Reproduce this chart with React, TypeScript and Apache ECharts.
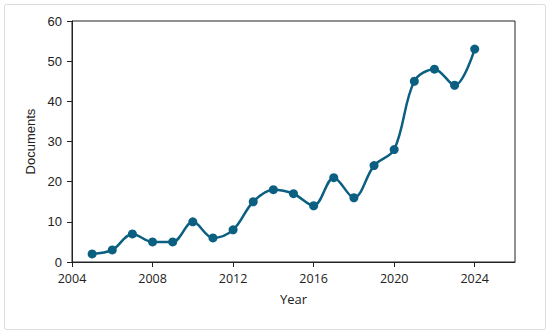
import React, { useEffect, useRef } from "react";
import * as echarts from "echarts";

const years = [2005, 2006, 2007, 2008, 2009, 2010, 2011, 2012, 2013, 2014, 2015, 2016, 2017, 2018, 2019, 2020, 2021, 2022, 2023, 2024];
const documents = [2, 3, 7, 5, 5, 10, 6, 8, 15, 18, 17, 14, 21, 16, 24, 28, 45, 48, 44, 53];
const xTicks = [2004, 2008, 2012, 2016, 2020, 2024];
const yTicks = [0, 10, 20, 30, 40, 50, 60];

export default function App() {
  const ref = useRef<HTMLDivElement>(null);
  useEffect(() => {
    if (!ref.current) return;
    const chart = echarts.init(ref.current, null, { renderer: "svg" });
    const axisColor = "#222";
    chart.setOption({
      animation: false,
      backgroundColor: "#fff",
      grid: {
        left: 72,
        right: 35,
        top: 21,
        bottom: 72,
        show: true,
        borderColor: axisColor,
        borderWidth: 1,
        backgroundColor: "transparent",
      },
      graphic: [
        {
          type: "rect",
          shape: { x: 4.5, y: 4.5, width: 541, height: 325, r: 2 },
          style: { fill: "none", stroke: "#dcdcdc", lineWidth: 1 },
          silent: true,
        },
      ],
      xAxis: {
        type: "value",
        min: 2004,
        max: 2026,
        interval: 4,
        name: "Year",
        nameLocation: "middle",
        nameGap: 30,
        nameTextStyle: { fontFamily: "Open Sans", fontSize: 13, color: axisColor },
        splitLine: { show: false },
        axisLine: { show: true, lineStyle: { color: axisColor, width: 1 } },
        axisTick: { show: true, length: 5, inside: false, customValues: xTicks, lineStyle: { color: axisColor } },
        axisLabel: {
          customValues: xTicks,
          margin: 10,
          fontFamily: "Open Sans",
          fontSize: 12.5,
          color: axisColor,
          formatter: (v: number) => String(v),
        },
      },
      yAxis: {
        type: "value",
        min: 0,
        max: 60,
        interval: 10,
        name: "Documents",
        nameLocation: "middle",
        nameGap: 30,
        nameTextStyle: { fontFamily: "Liberation Sans", fontSize: 13, color: axisColor },
        splitLine: { show: false },
        axisLine: { show: true, lineStyle: { color: axisColor, width: 1 } },
        axisTick: { show: true, length: 5, inside: false, customValues: yTicks, lineStyle: { color: axisColor } },
        axisLabel: {
          customValues: yTicks,
          margin: 10,
          fontFamily: "Liberation Sans",
          fontSize: 13,
          color: axisColor,
        },
      },
      series: [
        {
          type: "line",
          data: years.map((y, i) => [y, documents[i]]),
          smooth: 0.35,
          symbol: "circle",
          symbolSize: 9,
          lineStyle: { color: "#0b5f80", width: 2.5 },
          itemStyle: { color: "#0b5f80" },
        },
      ],
    });
    return () => chart.dispose();
  }, []);
  return <div ref={ref} style={{ width: 550, height: 334, position: "absolute", left: 0, top: 0 }} />;
}
